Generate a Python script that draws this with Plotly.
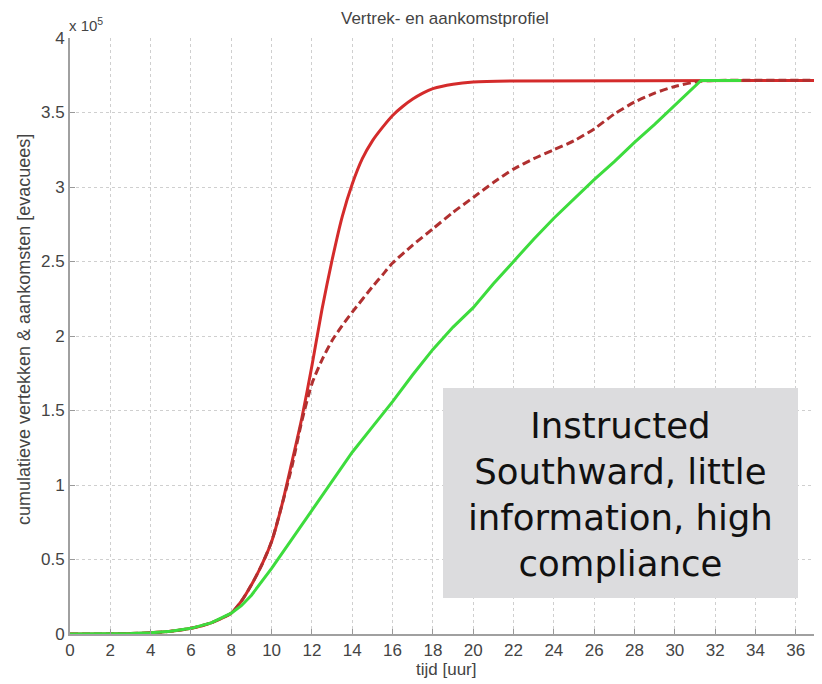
import plotly.graph_objects as go

# time axis (hours) and cumulative values (x 10^5 evacuees)
t_green = [0, 1, 2, 3, 4, 5, 6, 7, 8, 8.5, 9, 9.5, 10, 11, 12, 13, 14, 15, 16, 17, 18, 19, 20,
           21, 22, 23, 24, 25, 26, 27, 28, 29, 30, 31.3, 32, 33.3]
v_green = [0, 0, 0.001, 0.003, 0.008, 0.018, 0.038, 0.075, 0.14, 0.19, 0.26, 0.35, 0.44, 0.635,
           0.83, 1.03, 1.22, 1.39, 1.56, 1.74, 1.91, 2.06, 2.19, 2.35, 2.50, 2.65, 2.79, 2.92,
           3.05, 3.17, 3.30, 3.42, 3.55, 3.715, 3.715, 3.715]

t_red = [0, 1, 2, 3, 4, 5, 6, 7, 8, 8.5, 9, 9.5, 10, 10.5, 11, 11.5, 12, 12.5, 13, 13.5, 14,
         14.5, 15, 15.5, 16, 16.5, 17, 17.5, 18, 19, 20, 22, 37.5]
v_red = [0, 0, 0.001, 0.003, 0.008, 0.018, 0.038, 0.075, 0.14, 0.22, 0.33, 0.46, 0.62, 0.86,
         1.15, 1.45, 1.80, 2.18, 2.51, 2.80, 3.02, 3.19, 3.31, 3.40, 3.48, 3.54, 3.59, 3.63,
         3.66, 3.69, 3.705, 3.712, 3.715]

t_red_dash = [0, 1, 2, 3, 4, 5, 6, 7, 8, 8.5, 9, 9.5, 10, 10.5, 11, 11.5, 12, 12.5, 13, 13.5,
              14, 15, 15.5, 16, 17, 18, 19, 20, 21, 22, 23, 24, 25, 26, 27, 28, 29, 30, 31.3, 37.5]
v_red_dash = [0, 0, 0.001, 0.003, 0.008, 0.018, 0.038, 0.075, 0.14, 0.22, 0.33, 0.46, 0.62,
              0.86, 1.12, 1.43, 1.68, 1.84, 1.97, 2.07, 2.16, 2.33, 2.41, 2.49, 2.61, 2.72,
              2.83, 2.93, 3.03, 3.12, 3.19, 3.25, 3.31, 3.39, 3.49, 3.57, 3.63, 3.675, 3.71, 3.715]

x_ticks = list(range(0, 38, 2))
y_ticks = [0, 0.5, 1, 1.5, 2, 2.5, 3, 3.5, 4]

title_text = "Vertrek- en aankomstprofiel"
x_title = "tijd [uur]"
y_title = "cumulatieve vertekken & aankomsten [evacuees]"
box_text = "Instructed<br>Southward, little<br>information, high<br>compliance"

# page body has an 8px margin, so the figure is placed at (8, 8) in the window
OFF = 8
W, H = 822 - OFF, 684 - OFF
L, R, T, B = 70 - OFF, 0, 38 - OFF, 50
pw, ph = W - L - R, H - T - B


def px(xw):
    return (xw - OFF - L) / pw


def py(yw):
    return (H - B - (yw - OFF)) / ph


fig = go.Figure()
fig.add_trace(go.Scatter(x=t_red, y=v_red, mode="lines",
                         line=dict(color="#d42b2b", width=3, shape="spline", smoothing=0.6)))
fig.add_trace(go.Scatter(x=t_red_dash, y=v_red_dash, mode="lines",
                         line=dict(color="#b03030", width=3, dash="8px,4px", shape="spline", smoothing=0.6)))
fig.add_trace(go.Scatter(x=t_green, y=v_green, mode="lines",
                         line=dict(color="#3ddc3d", width=3)))

axis_font = dict(family="Liberation Sans, Arial", size=17, color="#444")
grid_style = dict(showgrid=True, gridcolor="#cfcfcf", gridwidth=1, griddash="3px,3px")

fig.update_layout(
    width=W, height=H,
    margin=dict(l=L, r=R, t=T, b=B, pad=0),
    paper_bgcolor="white", plot_bgcolor="white",
    showlegend=False,
    xaxis=dict(range=[0, 37.3], tickvals=x_ticks, ticks="inside", ticklen=5, tickcolor="#999",
               showline=True, linecolor="#a0a0a0", linewidth=2, zeroline=False,
               tickfont=axis_font, **grid_style),
    yaxis=dict(range=[0, 4], tickvals=y_ticks, ticks="inside", ticklen=5, tickcolor="#999",
               showline=True, linecolor="#a0a0a0", linewidth=2, zeroline=False,
               tickfont=axis_font, **grid_style),
    shapes=[dict(type="rect", xref="paper", yref="paper",
                 x0=px(443), x1=px(798), y0=py(598), y1=py(388),
                 fillcolor="#dcdcde", line=dict(width=0), layer="above")],
    annotations=[
        dict(text=title_text, xref="paper", yref="paper", x=px(445), y=py(19),
             showarrow=False, font=dict(family="Liberation Sans, Arial", size=17, color="#444"),
             xanchor="center", yanchor="middle", borderpad=0),
        dict(text="x 10<sup>5</sup>", xref="paper", yref="paper", x=px(67), y=py(25),
             showarrow=False, font=dict(family="Liberation Sans, Arial", size=15, color="#444"),
             xanchor="left", yanchor="middle"),
        dict(text=x_title, xref="paper", yref="paper", x=px(446), y=py(669),
             showarrow=False, font=dict(family="Liberation Sans, Arial", size=17, color="#444"),
             xanchor="center", yanchor="middle"),
        dict(text=y_title, xref="paper", yref="paper", x=px(24), y=py(330),
             showarrow=False, textangle=-90,
             font=dict(family="Liberation Sans, Arial", size=18, color="#444"),
             xanchor="center", yanchor="middle"),
        dict(text=box_text, xref="paper", yref="paper", x=px(620), y=py(494),
             showarrow=False, align="center",
             font=dict(family="DejaVu Sans, Verdana", size=35.5, color="#111"),
             xanchor="center", yanchor="middle"),
    ],
)

fig.write_html("out.html")
